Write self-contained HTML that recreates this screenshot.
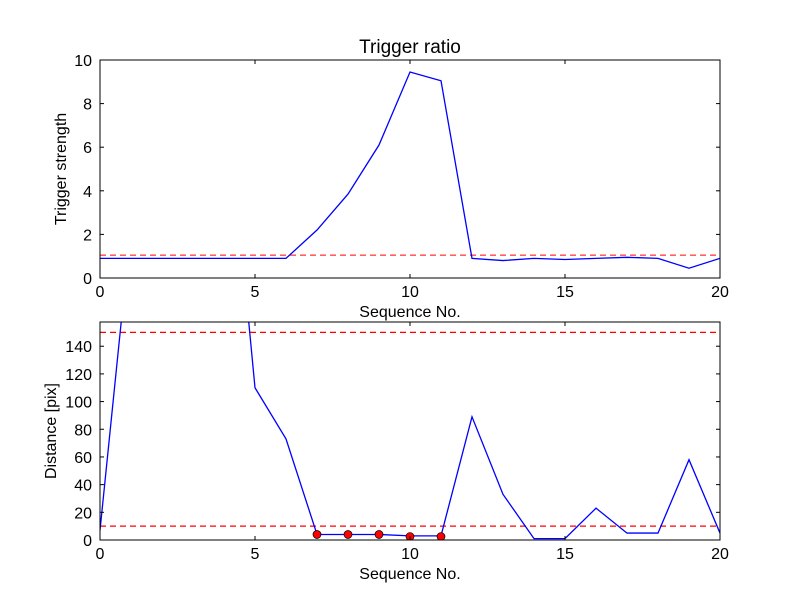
<!DOCTYPE html>
<html><head><meta charset="utf-8">
<style>
body{margin:0;background:#fff;}
svg text{font-family:"Liberation Sans","DejaVu Sans",sans-serif;fill:#000;}
</style></head>
<body>
<svg id="fig" width="800" height="600" viewBox="0 0 800 600" xmlns="http://www.w3.org/2000/svg">
<rect width="800" height="600" fill="#fff"/>
</svg>
<script>
const seqNo = [0,1,2,3,4,5,6,7,8,9,10,11,12,13,14,15,16,17,18,19,20];
const triggerStrength = [0.9,0.9,0.9,0.9,0.9,0.9,0.9,2.2,3.85,6.1,9.45,9.05,0.9,0.8,0.9,0.85,0.9,0.95,0.9,0.45,0.9];
const triggerThreshold = 1.05;
const distance = [7,227,300,320,345,110,73,4,4,4,3,3,89,33,1,1,23,5,5,58,5];
const distThresholds = [10,150];
const markerSeq = [7,8,9,10,11];
const markerDist = [4,4,4,2.5,2.5];
const xTicks = [0,5,10,15,20];
const topYTicks = [0,2,4,6,8,10];
const botYTicks = [0,20,40,60,80,100,120,140];

const NS="http://www.w3.org/2000/svg";
const svg=document.getElementById('fig');
function mk(tag,attrs,parent){const e=document.createElementNS(NS,tag);for(const k in attrs)e.setAttribute(k,attrs[k]);(parent||svg).appendChild(e);return e;}

function panel(cfg){
  const {L,R,T,B,ymin,ymax,yt,prefix}=cfg;
  const sx=v=>L+(v-0)/(20-0)*(R-L);
  const sy=v=>B-(v-ymin)/(ymax-ymin)*(B-T);
  const g=mk('g',{});
  
  
  const cp=mk('clipPath',{id:prefix+'-clip'},g);
  mk('rect',{x:L,y:T,width:R-L,height:B-T},cp);
  const plot=mk('g',{'clip-path':'url(#'+prefix+'-clip)'},g);
  
  
  cfg.draw(plot,sx,sy);
  const frame=mk('rect',{x:L,y:T,width:R-L,height:B-T,fill:'none',stroke:'#000','stroke-width':1},g);
  
  
  xTicks.forEach(v=>{
    const x=sx(v);
    mk('line',{x1:x,x2:x,y1:B,y2:B-4,stroke:'#000'},g);
    mk('line',{x1:x,x2:x,y1:T,y2:T+4,stroke:'#000'},g);
    const t=mk('text',{x:x,y:B+19,'text-anchor':'middle','font-size':16},g);
    
    
    t.textContent=v;
  });
  yt.forEach(v=>{
    const y=sy(v);
    mk('line',{x1:L,x2:L+4,y1:y,y2:y,stroke:'#000'},g);
    mk('line',{x1:R,x2:R-4,y1:y,y2:y,stroke:'#000'},g);
    const t=mk('text',{x:L-8,y:y+6,'text-anchor':'end','font-size':16},g);
    
    
    t.textContent=v;
  });
  const xl=mk('text',{x:(L+R)/2,y:B+39,'text-anchor':'middle','font-size':16},g);
  
  
  xl.textContent='Sequence No.';
  const yx=cfg.ylabX, yy=(T+B)/2;
  const yl=mk('text',{x:yx,y:yy,'text-anchor':'middle','font-size':16,transform:'rotate(-90 '+yx+' '+yy+')'},g);
  
  
  yl.textContent=cfg.ylabel;
}

// Title
const title=mk('text',{x:410,y:53,'text-anchor':'middle','font-size':19});


title.textContent='Trigger ratio';

panel({L:100,R:720,T:60,B:278,ymin:0,ymax:10,yt:topYTicks,prefix:'top',ylabel:'Trigger strength',ylabX:66,
 draw:(p,sx,sy)=>{
  const th=mk('line',{x1:sx(0),x2:sx(20),y1:sy(triggerThreshold),y2:sy(triggerThreshold),stroke:'#f00','stroke-width':1,'stroke-dasharray':'6,4'},p);
  
  
  const pl=mk('polyline',{points:seqNo.map((s,i)=>sx(s)+','+sy(triggerStrength[i])).join(' '),fill:'none',stroke:'#00f','stroke-width':1.3},p);
  
  
 }});

panel({L:100,R:720,T:322,B:540,ymin:0,ymax:157.5,yt:botYTicks,prefix:'bottom',ylabel:'Distance [pix]',ylabX:56,
 draw:(p,sx,sy)=>{
  distThresholds.forEach(v=>{
    const th=mk('line',{x1:sx(0),x2:sx(20),y1:sy(v),y2:sy(v),stroke:'#f00','stroke-width':1.3,'stroke-dasharray':'6,4'},p);
    
    
  });
  const pl=mk('polyline',{points:seqNo.map((s,i)=>sx(s)+','+sy(distance[i])).join(' '),fill:'none',stroke:'#00f','stroke-width':1.3},p);
  
  
  markerSeq.forEach((s,i)=>{
    const c=mk('circle',{cx:sx(s),cy:sy(markerDist[i]),r:4,fill:'#f00',stroke:'#000','stroke-width':0.7},p);
    
    
  });
 }});
</script>
</body></html>
